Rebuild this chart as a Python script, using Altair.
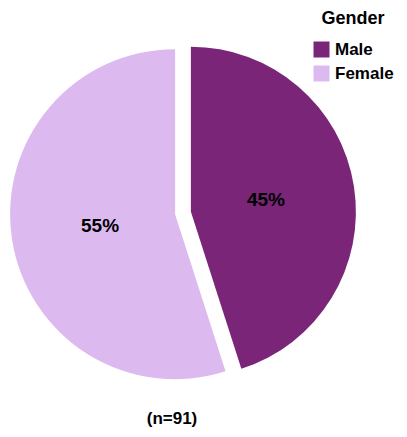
import altair as alt
import pandas as pd

genders = ["Male", "Female"]
counts = [41, 50]
colors = ["#7B2579", "#DCBAF0"]
note = "(n=91)"

df = pd.DataFrame({"gender": genders, "count": counts, "order": [0, 1]})

CX, CY, R, D, RL = 175, 205, 165, 8, 76
FONT = "Liberation Sans"

base = (
    alt.Chart(df)
    .transform_joinaggregate(total="sum(count)")
    .transform_window(cum="sum(count)", sort=[alt.SortField("order")])
    .transform_calculate(
        mid="(datum.cum - datum.count/2)/datum.total*2*PI",
    )
    .transform_calculate(
        cx=f"{CX} + {D}*sin(datum.mid)",
        cy=f"{CY} - {D}*cos(datum.mid)",
        lx=f"{CX} + {D + RL}*sin(datum.mid)",
        ly=f"{CY} - {D + RL}*cos(datum.mid)",
        label="format(datum.count/datum.total, '.0%')",
    )
)

arcs = base.mark_arc(radius=R).encode(
    theta=alt.Theta("count:Q", stack=True),
    order=alt.Order("order:Q"),
    color=alt.Color(
        "gender:N",
        scale=alt.Scale(domain=genders, range=colors),
        legend=alt.Legend(
            title="Gender",
            orient="none",
            legendX=305,
            legendY=2,
            symbolType="square",
            symbolSize=256,
            symbolStrokeWidth=0,
            labelFont=FONT,
            labelFontSize=17,
            labelFontWeight="bold",
            labelColor="black",
            labelOffset=5,
            labelLimit=200,
            titleFont=FONT,
            titleFontSize=18,
            titleFontWeight="bold",
            titleColor="black",
            titleAnchor="middle",
            titlePadding=13,
            rowPadding=6,
        ),
    ),
    x=alt.X("cx:Q", scale=None, axis=None),
    y=alt.Y("cy:Q", scale=None, axis=None),
)

labels = base.mark_text(font=FONT, fontSize=19, fontWeight="bold", color="black").encode(
    x=alt.X("lx:Q", scale=None, axis=None),
    y=alt.Y("ly:Q", scale=None, axis=None),
    text="label:N",
)

note_text = alt.Chart(pd.DataFrame({"t": [note]})).mark_text(
    font=FONT, fontSize=17, fontWeight="bold", color="black"
).encode(x=alt.value(164), y=alt.value(411), text="t:N")

chart = (
    alt.layer(arcs, labels, note_text)
    .properties(width=391, height=421, autosize=alt.AutoSizeParams(type="none"), padding=0)
    .configure_view(stroke=None)
)

chart.save("out.html", embed_options={"renderer": "svg", "actions": False})
